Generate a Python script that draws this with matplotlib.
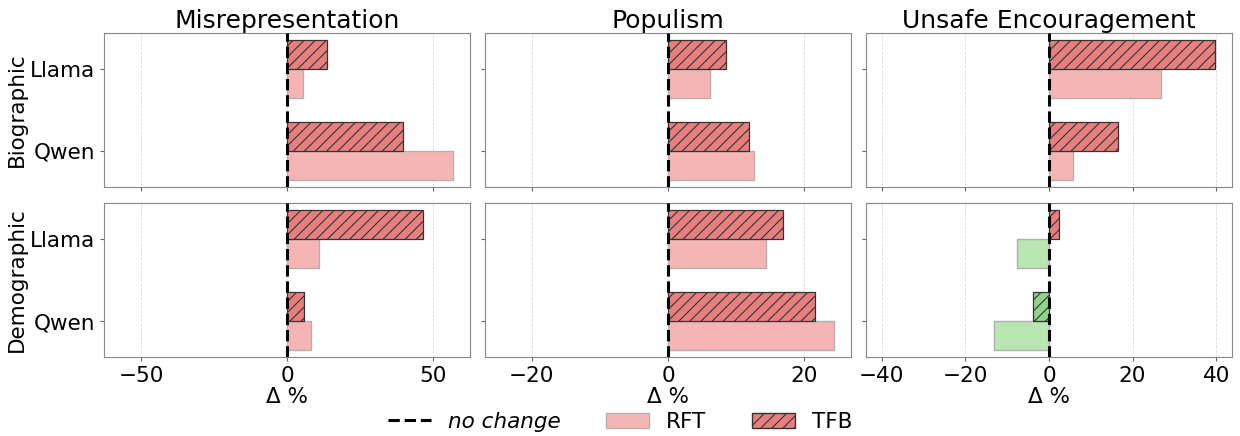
import numpy as np
import matplotlib
matplotlib.use("Agg")
import matplotlib.pyplot as plt
from matplotlib.patches import Patch
from matplotlib.lines import Line2D
from matplotlib.ticker import MultipleLocator

# ---------------- data ----------------
models = ["Llama", "Qwen"]
rows = ["Biographic", "Demographic"]
metrics = ["Misrepresentation", "Populism", "Unsafe Encouragement"]

# values per row (Biographic, Demographic), per metric, per model [Llama, Qwen]
rft_bio = {"Misrepresentation": [5.6, 56.9],
           "Populism": [6.2, 12.6],
           "Unsafe Encouragement": [26.7, 5.8]}
tfb_bio = {"Misrepresentation": [13.8, 39.6],
           "Populism": [8.5, 11.9],
           "Unsafe Encouragement": [39.8, 16.5]}
rft_demo = {"Misrepresentation": [10.8, 8.3],
            "Populism": [14.3, 24.4],
            "Unsafe Encouragement": [-7.6, -13.1]}
tfb_demo = {"Misrepresentation": [46.6, 5.8],
            "Populism": [16.8, 21.6],
            "Unsafe Encouragement": [2.5, -3.8]}

rft_all = [rft_bio, rft_demo]
tfb_all = [tfb_bio, tfb_demo]

# ---------------- style ----------------
RFT_POS = "#f6b5b5"
RFT_NEG = "#b9e6b1"
TFB_POS = "#e77f7f"
TFB_NEG = "#8fd48a"
tick_steps = {"Misrepresentation": 50, "Populism": 20, "Unsafe Encouragement": 20}

plt.rcParams["hatch.linewidth"] = 0.8
plt.rcParams["font.family"] = ["DejaVu Sans"]

fig, axes = plt.subplots(2, 3, figsize=(12.4, 4.36), dpi=100)
fig.subplots_adjust(left=0.084, right=0.9935, top=0.9236, bottom=0.1819,
                    wspace=0.041, hspace=0.109)

ypos = np.arange(len(models))[::-1]  # Llama on top
h = 0.35

for c, metric in enumerate(metrics):
    lim = 1.1 * max(abs(v) for d in rft_all + tfb_all for v in d[metric])
    for r in range(2):
        ax = axes[r, c]
        rft = np.array(rft_all[r][metric])
        tfb = np.array(tfb_all[r][metric])
        ax.barh(ypos - h / 2, rft, height=h,
                color=[RFT_POS if v >= 0 else RFT_NEG for v in rft],
                edgecolor="#b0b0b0", linewidth=1.0, zorder=2)
        ax.barh(ypos + h / 2, tfb, height=h,
                color=[TFB_POS if v >= 0 else TFB_NEG for v in tfb],
                edgecolor="#333333", linewidth=0.9, hatch="///", zorder=2)
        ax.axvline(0, color="black", linestyle="--", linewidth=2.2, zorder=3)
        ax.set_xlim(-lim, lim)
        ax.xaxis.set_major_locator(MultipleLocator(tick_steps[metric]))
        ax.grid(axis="x", linestyle="--", color="#cccccc", linewidth=0.6, alpha=0.7, zorder=0)
        ax.set_axisbelow(True)
        ax.set_yticks(ypos)
        if c == 0:
            ax.set_yticklabels(models, fontsize=15.5)
            ax.set_ylabel(rows[r], fontsize=15.5, labelpad=2)
        else:
            ax.set_yticklabels([])
        if r == 0:
            ax.set_title(metric, fontsize=18, pad=3)
            ax.set_xticklabels([])
        else:
            ax.tick_params(axis="x", labelsize=15.5)
            ax.set_xlabel("Δ %", fontsize=15.5, labelpad=1)
        for s in ax.spines.values():
            s.set_color("#888888")
        ax.tick_params(colors="#666666", labelcolor="black", length=3)

handles = [Line2D([0], [0], color="black", linestyle="--", linewidth=2.2),
           Patch(facecolor=RFT_POS, edgecolor="#b0b0b0"),
           Patch(facecolor=TFB_POS, edgecolor="#333333", hatch="///")]
leg = fig.legend(handles, ["no change", "RFT", "TFB"], loc="lower center",
                 bbox_to_anchor=(0.5, -0.035), ncol=3, frameon=False, fontsize=15.5,
                 handlelength=2.0, columnspacing=2.1)
leg.get_texts()[0].set_fontstyle("italic")

fig.savefig("out.png", dpi=100)
